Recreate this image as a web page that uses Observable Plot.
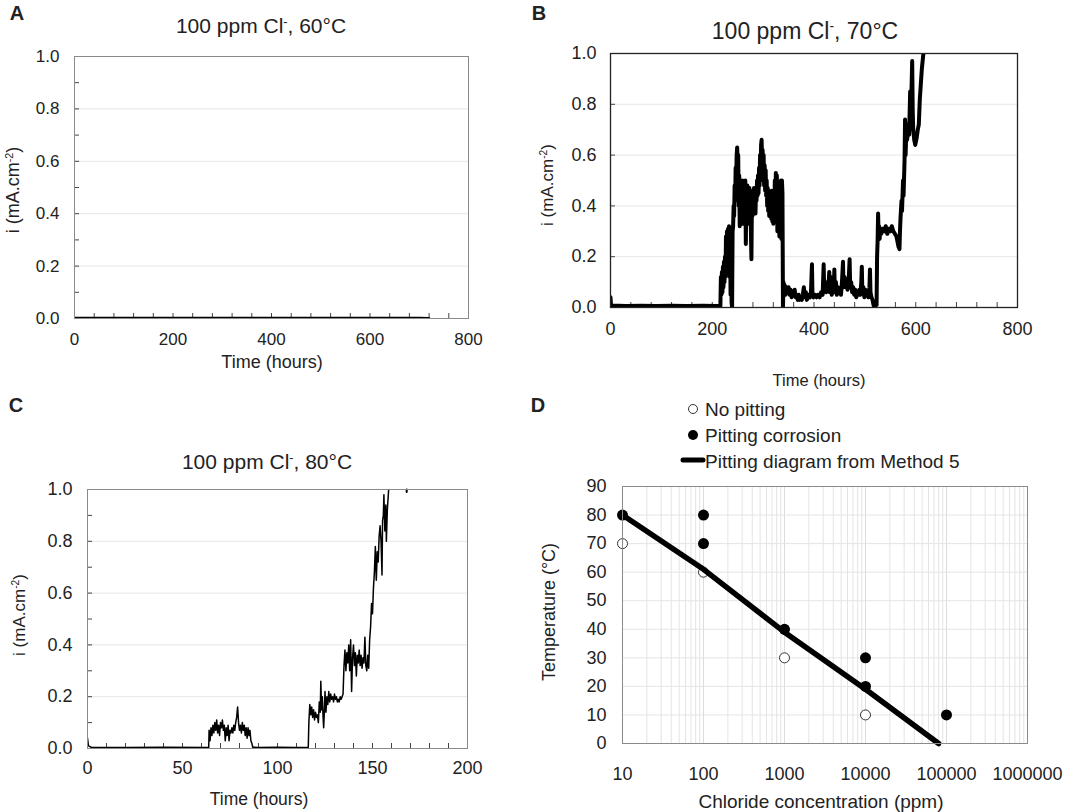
<!DOCTYPE html>
<html>
<head>
<meta charset="utf-8">
<script src="https://cdn.jsdelivr.net/npm/d3@7"></script>
<script src="https://cdn.jsdelivr.net/npm/@observablehq/plot@0.6"></script>
<style>
  html, body { margin: 0; padding: 0; background: #fff; }
  #root { position: relative; width: 1065px; height: 812px; overflow: hidden;
          font-family: "Liberation Sans", Arial, Helvetica, sans-serif; color: #222; }
  .p { position: absolute; }
  .p svg { overflow: visible; }
  .t { position: absolute; white-space: nowrap; line-height: 1; transform: translate(-50%, -50%); }
  .r { transform: translate(-50%, -50%) rotate(-90deg); }
  .sup { font-size: 0.6em; position: relative; top: -0.55em; }
  .letter { position: absolute; font-weight: bold; font-size: 20px; line-height: 1; transform: translate(-50%, -50%); }
  .leg { position: absolute; white-space: nowrap; line-height: 1; font-size: 19px; transform: translateY(-50%); }
</style>
</head>
<body>
<div id="root">
  <div class="letter" style="left:17px;top:13px">A</div>
  <div class="letter" style="left:539px;top:13px">B</div>
  <div class="letter" style="left:16px;top:405px">C</div>
  <div class="letter" style="left:538px;top:405px">D</div>

  <div class="t" style="left:261px;top:25px;font-size:21px">100 ppm Cl<span class="sup">-</span>, 60°C</div>
  <div class="t" style="left:805px;top:31px;font-size:23px">100 ppm Cl<span class="sup">-</span>, 70°C</div>
  <div class="t" style="left:267px;top:461px;font-size:21px">100 ppm Cl<span class="sup">-</span>, 80°C</div>

  <div class="t r" style="left:13px;top:190px;font-size:18px">i (mA.cm<span class="sup">-2</span>)</div>
  <div class="t r" style="left:547px;top:185px;font-size:17px">i (mA.cm<span class="sup">-2</span>)</div>
  <div class="t r" style="left:19px;top:615px;font-size:17px">i (mA.cm<span class="sup">-2</span>)</div>
  <div class="t r" style="left:549px;top:612px;font-size:18px">Temperature (°C)</div>

  <div class="t" style="left:272px;top:362px;font-size:18px">Time (hours)</div>
  <div class="t" style="left:819px;top:380px;font-size:16.5px">Time (hours)</div>
  <div class="t" style="left:259px;top:800px;font-size:17.5px">Time (hours)</div>
  <div class="t" style="left:821px;top:801px;font-size:19px">Chloride concentration (ppm)</div>

  <svg class="p" style="left:680px;top:400px" width="30" height="70">
    <circle cx="13" cy="9" r="4.5" fill="#fff" stroke="#333" stroke-width="1"></circle>
    <circle cx="13" cy="35" r="5" fill="#000"></circle>
    <line x1="3" x2="23" y1="60" y2="60" stroke="#000" stroke-width="5" stroke-linecap="round"></line>
  </svg>
  <div class="leg" style="left:705px;top:409px">No pitting</div>
  <div class="leg" style="left:705px;top:435px">Pitting corrosion</div>
  <div class="leg" style="left:705px;top:461px">Pitting diagram from Method 5</div>

  <div class="p" id="pa" style="left:0px;top:0px"></div>
  <div class="p" id="pb" style="left:520px;top:0px"></div>
  <div class="p" id="pc" style="left:0px;top:420px"></div>
  <div class="p" id="pd" style="left:520px;top:420px"></div>
</div>
<script>
// ---------- data ----------
const timeTicksAB = [0, 200, 400, 600, 800];
const timeMinorAB = [40, 80, 120, 160, 200, 240, 280, 320, 360, 400, 440, 480, 520, 560, 600, 640, 680, 720, 760];
const timeTicksC = [0, 50, 100, 150, 200];
const timeMinorC = [10, 20, 30, 40, 50, 60, 70, 80, 90, 100, 110, 120, 130, 140, 150, 160, 170, 180, 190];
const currentTicks = [0, 0.2, 0.4, 0.6, 0.8, 1.0];
const currentGrid = [0.2, 0.4, 0.6, 0.8];
const currentMinor = [0.1, 0.3, 0.5, 0.7, 0.9];

// Panel A: 100 ppm, 60 C (time h, current mA/cm2)
const seriesA = [[0, 0.003], [200, 0.003], [400, 0.003], [600, 0.003], [700, 0.003], [720, 0.002]];

// Panel B: 100 ppm, 70 C
const seriesB = [
  [0,0.04],[1,0.008],[30,0.006],[60,0.007],[90,0.006],[120,0.007],[150,0.006],[180,0.007],[210,0.006],[216,0.007],
  [217,0.12],[218,0.05],[219,0.14],[220,0.06],[221,0.16],[222,0.08],[223,0.18],[224,0.1],[225,0.2],[226,0.12],
  [227,0.28],[228,0.15],[229,0.3],[230,0.22],[231,0.31],[232,0.26],[233,0.32],[234,0.12],[235,0.3],[236,0.05],
  [237,0.31],[238,0.02],[239,0.0],[240,0.3],[241,0.32],[242,0.4],[243,0.36],[244,0.48],[245,0.42],[246,0.55],
  [247,0.5],[248,0.6],[249,0.63],[250,0.55],[251,0.6],[252,0.4],[253,0.52],[254,0.32],[255,0.48],[256,0.35],
  [257,0.44],[258,0.38],[259,0.5],[260,0.33],[261,0.47],[262,0.4],[263,0.48],[264,0.36],[265,0.5],[266,0.25],
  [267,0.45],[268,0.36],[269,0.48],[270,0.38],[271,0.46],[272,0.33],[273,0.47],[274,0.4],[275,0.44],[276,0.3],
  [277,0.19],[278,0.42],[279,0.36],[280,0.46],[281,0.38],[282,0.47],[283,0.4],[284,0.45],[285,0.37],[286,0.47],
  [287,0.42],[288,0.5],[289,0.44],[290,0.52],[291,0.45],[292,0.55],[293,0.48],[294,0.6],[295,0.52],[296,0.64],
  [297,0.66],[298,0.58],[299,0.62],[300,0.5],[301,0.6],[302,0.48],[303,0.56],[304,0.46],[305,0.54],[306,0.44],
  [307,0.5],[308,0.4],[309,0.47],[310,0.38],[311,0.46],[312,0.36],[313,0.45],[314,0.38],[315,0.44],[316,0.35],
  [317,0.46],[318,0.34],[319,0.42],[320,0.33],[321,0.44],[322,0.36],[323,0.5],[324,0.38],[325,0.53],[326,0.4],
  [327,0.52],[328,0.3],[329,0.42],[330,0.34],[331,0.4],[332,0.28],[333,0.36],[334,0.3],[335,0.5],[336,0.27],
  [337,0.5],[338,0.45],[339,0.0],
  [340,0.1],[341,0.06],[342,0.09],[344,0.05],[346,0.08],[348,0.06],[350,0.08],[352,0.05],[354,0.07],[356,0.04],
  [358,0.06],[360,0.05],[362,0.07],[364,0.04],[366,0.05],[368,0.03],[370,0.05],[372,0.03],[374,0.04],[376,0.03],
  [378,0.05],[380,0.08],[382,0.04],[384,0.06],[386,0.03],[388,0.04],[390,0.05],[392,0.04],[394,0.06],[396,0.17],
  [397,0.05],[399,0.04],[402,0.05],[405,0.04],[408,0.05],[411,0.04],[414,0.06],[417,0.05],[419,0.17],[420,0.07],
  [422,0.1],[424,0.06],[426,0.09],[428,0.07],[430,0.14],[431,0.06],[433,0.12],[435,0.05],[437,0.09],[439,0.07],
  [440,0.15],[441,0.06],[443,0.1],[445,0.05],[447,0.08],[449,0.06],[451,0.07],[453,0.05],[455,0.1],[457,0.18],
  [458,0.08],[460,0.12],[462,0.08],[464,0.11],[466,0.07],[468,0.1],[470,0.19],[471,0.09],[473,0.1],[475,0.06],
  [477,0.08],[479,0.05],[481,0.07],[483,0.04],[485,0.06],[487,0.05],[489,0.07],[491,0.05],[493,0.1],[494,0.16],
  [495,0.06],[497,0.08],[499,0.04],[501,0.07],[503,0.05],[505,0.06],[507,0.04],[509,0.08],[510,0.15],[511,0.06],
  [513,0.04],[515,0.03],[517,0.01],[519,0.0],[521,0.02],[523,0.01],[524,0.2],[525,0.26],[526,0.37],[527,0.28],
  [528,0.32],[529,0.27],[530,0.3],[532,0.29],[535,0.31],[538,0.3],[541,0.32],[544,0.29],[547,0.31],[550,0.3],
  [553,0.32],[556,0.3],[559,0.29],[562,0.28],[564,0.26],[566,0.24],[568,0.23],[569,0.3],[570,0.35],[572,0.42],
  [573,0.38],[575,0.5],[576,0.44],[578,0.58],[579,0.74],[580,0.6],[582,0.72],[583,0.66],[585,0.7],[587,0.68],
  [589,0.85],[591,0.8],[593,0.97],[594,0.78],[595,0.7],[597,0.66],[599,0.64],[600,0.65],[602,0.67],[604,0.7],
  [606,0.72],[608,0.82],[610,0.88],[612,0.94],[614,0.98],[615,1.0]
];

// Panel C: 100 ppm, 80 C
const seriesC = [
  [0,0.04],[0.5,0.01],[2,0.005],[20,0.004],[40,0.005],[63.8,0.004],
  [64,0.07],[64.5,0.03],[65,0.08],[65.5,0.05],[66,0.09],[66.5,0.06],[67,0.1],[67.5,0.07],[68,0.11],[68.5,0.06],
  [69,0.09],[69.5,0.05],[70,0.1],[70.5,0.08],[71,0.11],[71.5,0.07],[72,0.09],[72.5,0.03],[73,0.08],[73.5,0.05],
  [74,0.09],[74.5,0.03],[75,0.07],[75.5,0.06],[76,0.08],[76.5,0.06],[77,0.09],[77.5,0.07],[78,0.1],[78.5,0.12],
  [79,0.16],[79.5,0.1],[80,0.07],[80.5,0.09],[81,0.06],[81.5,0.1],[82,0.07],[82.5,0.09],[83,0.05],[83.5,0.08],
  [84,0.04],[84.5,0.08],[85,0.05],[85.5,0.07],[86,0.03],[86.5,0.02],[87,0.005],[90,0.004],[100,0.005],[110,0.004],
  [116.2,0.005],[116.5,0.1],[117,0.17],[117.5,0.13],[118,0.16],[118.5,0.12],[119,0.15],[119.5,0.11],[120,0.14],
  [120.5,0.12],[121,0.13],[121.5,0.1],[122,0.18],[122.5,0.14],[122.8,0.26],[123.2,0.15],[123.6,0.2],[124,0.12],
  [124.3,0.08],[124.7,0.15],[125,0.22],[125.5,0.14],[126,0.2],[126.5,0.17],[127,0.22],[127.5,0.18],[128,0.21],
  [128.5,0.19],[129,0.2],[129.5,0.18],[130,0.21],[130.5,0.19],[131,0.2],[131.5,0.18],[132,0.19],[132.5,0.18],
  [133,0.2],[133.5,0.19],[134,0.2],[134.5,0.21],[135,0.32],[135.5,0.38],[136,0.3],[136.5,0.37],[137,0.33],
  [137.5,0.4],[138,0.3],[138.5,0.42],[139,0.22],[139.5,0.35],[140,0.4],[140.5,0.32],[141,0.37],[141.5,0.28],
  [142,0.36],[142.5,0.33],[143,0.38],[143.5,0.32],[144,0.36],[144.5,0.31],[145,0.35],[145.5,0.33],[146,0.43],
  [146.5,0.32],[147,0.3],[147.5,0.36],[148,0.31],[148.5,0.42],[149,0.47],[149.5,0.56],[150,0.52],[150.5,0.62],
  [151,0.68],[151.5,0.78],[152,0.65],[152.5,0.76],[153,0.72],[153.5,0.82],[154,0.86],[154.5,0.8],[155,0.67],
  [155.3,0.88],[155.7,0.9],[156,0.98],[156.5,0.84],[157,0.94],[157.3,0.8],[157.8,0.92],[158.5,1.0]
];
const seriesCMark = [[168, 0.99], [168, 1.0]];

// Panel D: pitting diagram
const concTicks = [10, 100, 1000, 10000, 100000, 1000000];
const tempTicks = [0, 10, 20, 30, 40, 50, 60, 70, 80, 90];
const noPitConc = [10, 100, 1000, 10000];
const noPitTemp = [70, 60, 30, 10];
const pitConc = [10, 100, 100, 1000, 10000, 10000, 100000];
const pitTemp = [80, 80, 70, 40, 30, 20, 10];
const lineConc = [10, 100, 1000, 10000, 80000];
const lineTemp = [80, 61, 39, 19, 0];

// ---------- helpers ----------
const FONT = '"Liberation Sans", Arial, Helvetica, sans-serif';
const toObj = s => s.map(([t, i]) => ({t, i}));
const fmt1 = d3.format(".1f");

function currentPanel(el, cfg) {
  const W = cfg.width, H = cfg.height;
  const pw = W - cfg.ml - cfg.mr, ph = H - cfg.mt - cfg.mb;
  const marks = [
    Plot.gridY(currentGrid, {stroke: "#e6e6e6", strokeOpacity: 1}),
    Plot.tickX(cfg.minorX, {x: d => d, stroke: "#444", insetTop: ph - 5}),
  ];
  if (cfg.minorY) marks.push(Plot.tickY(cfg.minorY, {y: d => d, stroke: "#444", insetRight: pw - 5}));
  marks.push(Plot.tickY(currentGrid, {y: d => d, stroke: "#444", insetRight: pw - 5}));
  marks.push(
    Plot.axisX({ticks: cfg.ticksX, tickSize: 0, tickPadding: cfg.padX, label: null, fontSize: cfg.fs}),
    Plot.axisY({ticks: currentTicks, tickSize: 0, tickPadding: cfg.padY, tickFormat: fmt1, label: null, fontSize: cfg.fs}),
    Plot.line(toObj(cfg.series), {x: "t", y: "i", stroke: "#000", strokeWidth: cfg.sw, strokeLinejoin: "round", clip: true})
  );
  if (cfg.extra) marks.push(cfg.extra);
  marks.push(Plot.frame({stroke: cfg.frame, strokeWidth: cfg.frameW || 1}));
  const p = Plot.plot({
    width: W, height: H,
    marginLeft: cfg.ml, marginRight: cfg.mr, marginTop: cfg.mt, marginBottom: cfg.mb,
    x: {domain: cfg.domainX}, y: {domain: [0, 1]},
    style: {fontFamily: FONT, color: "#222", background: "transparent", overflow: "visible"},
    marks
  });
  el.appendChild(p);
}

// Panel A
currentPanel(document.getElementById("pa"), {
  width: 520, height: 400, ml: 74, mr: 52, mt: 56, mb: 82,
  domainX: [0, 800], ticksX: timeTicksAB, minorX: timeMinorAB, minorY: currentMinor,
  series: seriesA, sw: 2, fs: 17, padX: 14, padY: 15, frame: "#8a8a8a"
});
// Panel B
currentPanel(document.getElementById("pb"), {
  width: 545, height: 400, ml: 90, mr: 48, mt: 53, mb: 93,
  domainX: [0, 800], ticksX: timeTicksAB, minorX: timeMinorAB, minorY: null,
  series: seriesB, sw: 4, fs: 18, padX: 15, padY: 14, frame: "#222", frameW: 1.3
});
// Panel C
currentPanel(document.getElementById("pc"), {
  width: 520, height: 392, ml: 87, mr: 53, mt: 69, mb: 64,
  domainX: [0, 200], ticksX: timeTicksC, minorX: timeMinorC, minorY: currentMinor,
  series: seriesC, sw: 1.5, fs: 18, padX: 13, padY: 15, frame: "#8a8a8a",
  extra: Plot.line(toObj(seriesCMark), {x: "t", y: "i", stroke: "#000", strokeWidth: 2})
});

// Panel D
(function () {
  const minorConc = [];
  for (let d = 10; d < 1e6; d *= 10) for (let k = 2; k <= 9; k++) minorConc.push(k * d);
  const noPit = noPitConc.map((c, i) => ({c, T: noPitTemp[i]}));
  const pit = pitConc.map((c, i) => ({c, T: pitTemp[i]}));
  const line = lineConc.map((c, i) => ({c, T: lineTemp[i]}));
  const p = Plot.plot({
    width: 545, height: 392,
    marginLeft: 102, marginRight: 38, marginTop: 66, marginBottom: 69,
    x: {type: "log", domain: [10, 1e6]},
    y: {domain: [0, 90]},
    style: {fontFamily: FONT, color: "#222", background: "transparent", overflow: "visible"},
    marks: [
      Plot.gridX(minorConc, {stroke: "#e4e4e4", strokeOpacity: 1}),
      Plot.gridX(concTicks, {stroke: "#dcdcdc", strokeOpacity: 1}),
      Plot.gridY(tempTicks, {stroke: "#e4e4e4", strokeOpacity: 1}),
      Plot.axisX({ticks: concTicks, tickSize: 0, tickPadding: 24, tickFormat: d3.format("d"), label: null, fontSize: 18}),
      Plot.axisY({ticks: tempTicks, tickSize: 0, tickPadding: 16, label: null, fontSize: 18}),
      Plot.dot(noPit, {x: "c", y: "T", r: 5, fill: "#fff", stroke: "#333", strokeWidth: 1}),
      Plot.line(line, {x: "c", y: "T", stroke: "#000", strokeWidth: 5.5}),
      Plot.dot(pit, {x: "c", y: "T", r: 5.5, fill: "#000"}),
      Plot.frame({stroke: "#8a8a8a"})
    ]
  });
  document.getElementById("pd").appendChild(p);
})();
</script>
</body>
</html>
